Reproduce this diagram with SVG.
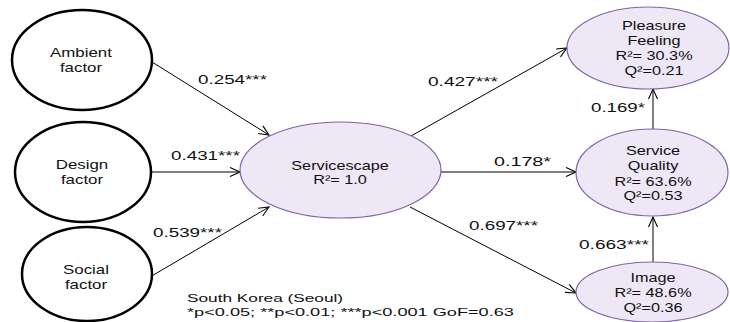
<svg xmlns="http://www.w3.org/2000/svg" width="730" height="322" viewBox="0 0 730 322">
<defs>
<marker id="arr" markerUnits="userSpaceOnUse" markerWidth="14" markerHeight="12" refX="11" refY="5" orient="auto" viewBox="0 0 14 10" overflow="visible">
<path d="M1,0.5 L11,5 L1,9.5" fill="none" stroke="#000" stroke-width="1.1"/>
</marker>
</defs>
<style>
.ext{fill:#fff;stroke:#000;stroke-width:2.5}
.lat{fill:#EDE7F6;stroke:#8064A2;stroke-width:1.2}
.nt{font-family:"Liberation Sans",Arial,sans-serif;font-size:12.5px;fill:#111;text-anchor:middle}
.lb{font-family:"Liberation Sans",Arial,sans-serif;font-size:12px;fill:#111}
.ft{font-family:"Liberation Sans",Arial,sans-serif;font-size:11.5px;fill:#111}
.cn{fill:none;stroke:#000;stroke-width:1;marker-end:url(#arr)}
</style>
<rect width="730" height="322" fill="#fff"/>
<g id="connectors">
<line class="cn" x1="152" y1="62" x2="269" y2="135"/>
<line class="cn" x1="151" y1="172" x2="240" y2="172"/>
<line class="cn" x1="150" y1="277" x2="269" y2="207"/>
<line class="cn" x1="411" y1="136" x2="567" y2="48"/>
<line class="cn" x1="441" y1="172" x2="576" y2="172"/>
<line class="cn" x1="410" y1="207" x2="576" y2="293"/>
<line class="cn" x1="653" y1="129" x2="653" y2="89"/>
<line class="cn" x1="653" y1="262" x2="653" y2="217"/>
</g>
<g id="labels">
<text class="lb" x="198" y="84" textLength="69" lengthAdjust="spacingAndGlyphs">0.254***</text>
<text class="lb" x="171" y="160" textLength="69" lengthAdjust="spacingAndGlyphs">0.431***</text>
<text class="lb" x="153" y="237" textLength="69" lengthAdjust="spacingAndGlyphs">0.539***</text>
<text class="lb" x="428" y="86" textLength="70" lengthAdjust="spacingAndGlyphs">0.427***</text>
<text class="lb" x="494" y="166" textLength="57" lengthAdjust="spacingAndGlyphs">0.178*</text>
<text class="lb" x="469" y="230" textLength="69" lengthAdjust="spacingAndGlyphs">0.697***</text>
<text class="lb" x="591" y="112" textLength="54" lengthAdjust="spacingAndGlyphs">0.169*</text>
<text class="lb" x="579" y="249" textLength="70" lengthAdjust="spacingAndGlyphs">0.663***</text>
</g>
<g id="ambient">
<ellipse class="ext" cx="82" cy="60" rx="70" ry="50"/>
<g transform="translate(81,0) scale(1.35,1)"><text class="nt" x="0" y="57">Ambient</text><text class="nt" x="0" y="72">factor</text></g>
</g>
<g id="design">
<ellipse class="ext" cx="83" cy="172" rx="68" ry="50"/>
<g transform="translate(82,0) scale(1.35,1)"><text class="nt" x="0" y="169">Design</text><text class="nt" x="0" y="184">factor</text></g>
</g>
<g id="social">
<ellipse class="ext" cx="87" cy="274" rx="65" ry="47"/>
<g transform="translate(86,0) scale(1.35,1)"><text class="nt" x="0" y="274">Social</text><text class="nt" x="0" y="289">factor</text></g>
</g>
<g id="servicescape">
<ellipse class="lat" cx="340.5" cy="170" rx="100.5" ry="48"/>
<g transform="translate(340,0) scale(1.3,1)"><text class="nt" x="0" y="170.5">Servicescape</text><text class="nt" x="0" y="184">R²= 1.0</text></g>
</g>
<g id="pleasure">
<ellipse class="lat" cx="648" cy="48" rx="81" ry="41"/>
<g transform="translate(654,0) scale(1.3,1)"><text class="nt" x="0" y="30">Pleasure</text><text class="nt" x="0" y="45">Feeling</text><text class="nt" x="0" y="60">R²= 30.3%</text><text class="nt" x="0" y="75">Q²=0.21</text></g>
</g>
<g id="quality">
<ellipse class="lat" cx="652" cy="172.5" rx="76" ry="43.5"/>
<g transform="translate(653,0) scale(1.3,1)"><text class="nt" x="0" y="155">Service</text><text class="nt" x="0" y="170">Quality</text><text class="nt" x="0" y="186">R²= 63.6%</text><text class="nt" x="0" y="200">Q²=0.53</text></g>
</g>
<g id="image">
<ellipse class="lat" cx="652" cy="292" rx="76" ry="30"/>
<g transform="translate(653,0) scale(1.3,1)"><text class="nt" x="0" y="282">Image</text><text class="nt" x="0" y="297">R²= 48.6%</text><text class="nt" x="0" y="312">Q²=0.36</text></g>
</g>
<g id="note">
<g transform="translate(187,302) scale(1.5,1)"><text class="ft" x="0" y="0">South Korea (Seoul)</text></g>
<g transform="translate(187,316) scale(1.58,1)"><text class="ft" x="0" y="0">*p&lt;0.05; **p&lt;0.01; ***p&lt;0.001 GoF=0.63</text></g>
</g>
</svg>
